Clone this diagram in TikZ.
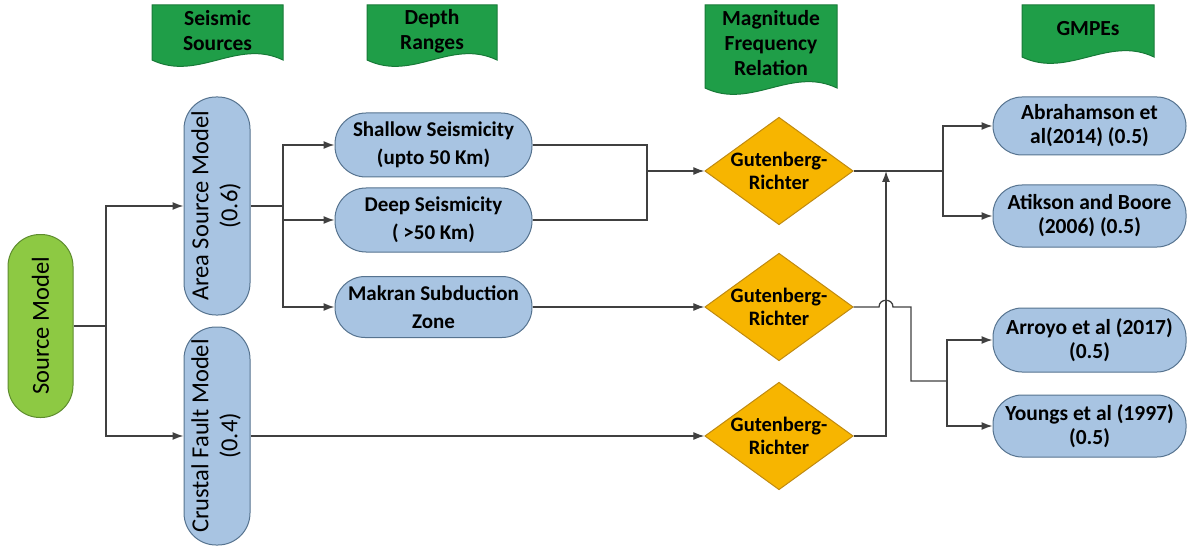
\documentclass[tikz,border=0pt]{standalone}
\usepackage{fontspec}
\setmainfont{Carlito}
\usepackage{graphicx}
\usetikzlibrary{arrows.meta,shapes.geometric}

\definecolor{pillblue}{HTML}{A8C4E2}
\definecolor{pillborder}{HTML}{56738F}
\definecolor{srcgreen}{HTML}{8DC943}
\definecolor{srcborder}{HTML}{5E8C2E}
\definecolor{bannergreen}{HTML}{1F9E48}
\definecolor{bannerborder}{HTML}{187A38}
\definecolor{grgold}{HTML}{F7B500}
\definecolor{grborder}{HTML}{C08A10}
\definecolor{lineclr}{HTML}{404040}

\tikzset{
  hpill/.style={draw=pillborder, fill=pillblue, line width=1pt, inner sep=0pt, align=center,
    minimum width=197pt, minimum height=64pt, rounded corners=31pt,
    font=\bfseries\fontsize{21}{28}\selectfont},
  gpill/.style={hpill, minimum width=193pt, minimum height=60pt, rounded corners=29pt,
    font=\bfseries\fontsize{21.5}{24}\selectfont},
  vpill/.style={draw=pillborder, fill=pillblue, line width=1pt, inner sep=0pt,
    minimum width=66pt, minimum height=218pt, rounded corners=32pt,
    font=\fontsize{24.5}{29}\selectfont},
  srcpill/.style={vpill, draw=srcborder, fill=srcgreen, minimum width=65pt, minimum height=183pt},
  grdia/.style={diamond, draw=grborder, fill=grgold, line width=1pt, inner sep=0pt, align=center,
    minimum width=146pt, minimum height=106pt, aspect=1.38,
    font=\bfseries\fontsize{20.5}{23}\selectfont},
  bannerbox/.style={draw=bannerborder, fill=bannergreen, line width=1pt},
  bannertext/.style={align=center, inner sep=0pt, font=\bfseries\fontsize{21.5}{25}\selectfont},
  conn/.style={draw=lineclr, line width=1.3pt},
  arr/.style={conn, -{Latex[length=11pt,width=8pt]}},
}

\begin{document}
\begin{tikzpicture}[x=1pt, y=-1pt]
\useasboundingbox (0,0) rectangle (1188,548);

% banners
\filldraw[bannerbox] (152,5) -- (283,5) -- (283,60) .. controls (237,38) and (198,82) .. (152,60) -- cycle;
\node[bannertext] (b1) at (217.5,31) {Seismic\\Sources};
\filldraw[bannerbox] (367,5) -- (497,5) -- (497,60) .. controls (451,38) and (413,82) .. (367,60) -- cycle;
\node[bannertext] (b2) at (432,31) {Depth\\Ranges};
\filldraw[bannerbox] (705,5) -- (837,5) -- (837,88) .. controls (791,66) and (751,110) .. (705,88) -- cycle;
\node[bannertext] (b3) at (771,43) {Magnitude\\Frequency\\Relation};
\filldraw[bannerbox] (1022,5) -- (1154,5) -- (1154,57) .. controls (1108,35) and (1068,79) .. (1022,57) -- cycle;
\node[bannertext] (b4) at (1088,29) {GMPEs};

% nodes
\node[srcpill] (src) at (40.5,326) {\rotatebox{90}{Source Model}};
\node[vpill] (area) at (217,206) {\rotatebox{90}{\begin{tabular}{@{}c@{}}Area Source Model\\(0.6)\end{tabular}}};
\node[vpill] (crust) at (217,436) {\rotatebox{90}{\begin{tabular}{@{}c@{}}Crustal Fault Model\\(0.4)\end{tabular}}};

\node[hpill] (shallow) at (433.5,145) {Shallow Seismicity\\(upto 50 Km)};
\node[hpill] (deep) at (433.5,220) {Deep Seismicity\\( >50 Km)};
\node[hpill, minimum height=61pt, rounded corners=30pt] (makran) at (433.5,307) {Makran Subduction\\Zone};

\node[grdia] (gr1) at (779,171) {Gutenberg-\\Richter};
\node[grdia] (gr2) at (779,307) {Gutenberg-\\Richter};
\node[grdia] (gr3) at (779,436) {Gutenberg-\\Richter};

\node[gpill, minimum height=58pt] (abr) at (1089.5,126) {Abrahamson et\\al(2014) (0.5)};
\node[gpill, minimum height=62pt] (atk) at (1089.5,216) {Atikson and Boore\\(2006) (0.5)};
\node[gpill, minimum height=64pt] (arroyo) at (1089.5,340) {Arroyo et al (2017)\\(0.5)};
\node[gpill, minimum height=62pt] (youngs) at (1089.5,426) {Youngs et al (1997)\\(0.5)};

% junction coordinates
\coordinate (j0) at (106,326);
\coordinate (j1) at (283,206);
\coordinate (j2) at (647,171);
\coordinate (j3) at (886,171);
\coordinate (j4) at (943,171);
\coordinate (j5) at (947,381);
\coordinate (k1) at (879,307);
\coordinate (k2) at (893,307);
\coordinate (k3) at (911,307);

% connectors
\draw[conn] (src.east) -- (j0);
\draw[arr] (j0) |- (area.west);
\draw[arr] (j0) |- (crust.west);

\draw[conn] (area.east) -- (j1);
\draw[arr] (j1) |- (shallow.west);
\draw[arr] (j1) |- (deep.west);
\draw[arr] (j1) |- (makran.west);

\draw[conn] (shallow.east) -| (j2);
\draw[conn] (deep.east) -| (j2);
\draw[arr] (j2) -- (gr1.west);
\draw[arr] (makran.east) -- (gr2.west);
\draw[arr] (crust.east) -- (gr3.west);

\draw[arr] (gr3.east) -| (j3);

\draw[conn] (gr1.east) -- (j4);
\draw[arr] (j4) |- (abr.west);
\draw[arr] (j4) |- (atk.west);

\draw[conn] (gr2.east) -- (k1) .. controls (879,298) and (893,298) .. (k2) -- (k3) |- (j5);
\draw[arr] (j5) |- (arroyo.west);
\draw[arr] (j5) |- (youngs.west);
\end{tikzpicture}
\end{document}
